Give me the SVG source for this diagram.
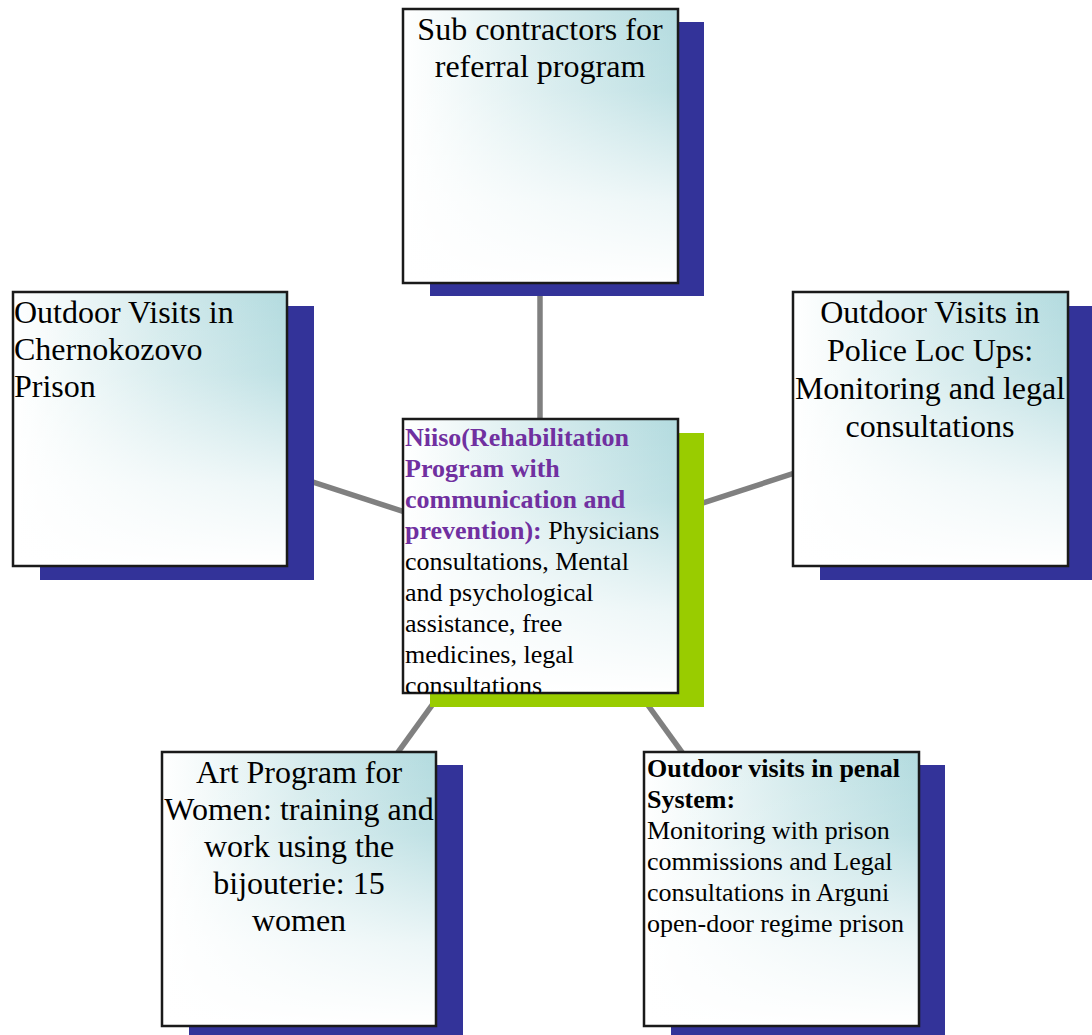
<svg xmlns="http://www.w3.org/2000/svg" width="1092" height="1035" viewBox="0 0 1092 1035">
<defs>
<linearGradient id="gh" x1="0" y1="0" x2="1" y2="0">
<stop offset="0" stop-color="#ffffff"/>
<stop offset="0.15" stop-color="#f4fafa"/>
<stop offset="0.55" stop-color="#d3eaec"/>
<stop offset="1" stop-color="#b3dbdf"/>
</linearGradient>
<linearGradient id="gv" x1="0" y1="0" x2="0" y2="1">
<stop offset="0" stop-color="#ffffff" stop-opacity="0"/>
<stop offset="0.3" stop-color="#ffffff" stop-opacity="0.15"/>
<stop offset="0.7" stop-color="#ffffff" stop-opacity="0.75"/>
<stop offset="1" stop-color="#ffffff" stop-opacity="1"/>
</linearGradient>
<pattern id="fill" patternUnits="objectBoundingBox" patternContentUnits="objectBoundingBox" width="1" height="1">
<rect width="1" height="1" fill="url(#gh)"/>
<rect width="1" height="1" fill="url(#gv)"/>
</pattern>
<clipPath id="cclip"><rect x="403" y="419" width="275" height="274"/></clipPath>
</defs>
<style>
.box{fill:url(#fill);stroke:#1a1a1a;stroke-width:2.5}
.sh{fill:#333399}
.shg{fill:#99cc00}
.conn{stroke:#808080;stroke-width:5.5;fill:none}
.t32{font-family:"Liberation Serif","Times New Roman",serif;font-size:32px;fill:#000}
.t26{font-family:"Liberation Serif","Times New Roman",serif;font-size:26px;fill:#000}
.b{font-weight:bold}
.p{fill:#7030a0}
</style>
<rect width="1092" height="1035" fill="#ffffff"/>
<g id="connectors">
<line class="conn" x1="540" y1="556" x2="540" y2="146"/>
<line class="conn" x1="540" y1="556" x2="150" y2="429"/>
<line class="conn" x1="540" y1="556" x2="930" y2="429"/>
<line class="conn" x1="540" y1="556" x2="299" y2="889"/>
<line class="conn" x1="540" y1="556" x2="781" y2="889"/>
</g>
<g id="node-top">
<rect class="sh" x="430" y="22" width="274" height="274"/>
<rect class="box" x="403" y="9" width="275" height="274"/>
<text class="t32" text-anchor="middle" x="540"><tspan x="540" y="40">Sub contractors for</tspan><tspan x="540" y="77">referral program</tspan></text>
</g>
<g id="node-left">
<rect class="sh" x="40" y="306" width="274" height="274"/>
<rect class="box" x="13" y="292" width="274" height="274"/>
<text class="t32"><tspan x="14" y="323">Outdoor Visits in</tspan><tspan x="14" y="360">Chernokozovo</tspan><tspan x="14" y="397">Prison</tspan></text>
</g>
<g id="node-right">
<rect class="sh" x="820" y="306" width="274" height="274"/>
<rect class="box" x="793" y="292" width="275" height="274"/>
<text class="t32" text-anchor="middle"><tspan x="930" y="323">Outdoor Visits in</tspan><tspan x="930" y="361">Police Loc Ups:</tspan><tspan x="930" y="399">Monitoring and legal</tspan><tspan x="930" y="437">consultations</tspan></text>
</g>
<g id="node-center">
<rect class="shg" x="430" y="433" width="274" height="274"/>
<rect class="box" x="403" y="419" width="275" height="274"/>
<g clip-path="url(#cclip)">
<text class="t26"><tspan x="405" y="446" class="b p">Niiso(Rehabilitation</tspan><tspan x="405" y="477" class="b p">Program with</tspan><tspan x="405" y="508" class="b p">communication and</tspan><tspan x="405" y="539" class="b p">prevention):</tspan><tspan> Physicians</tspan><tspan x="405" y="570">consultations, Mental</tspan><tspan x="405" y="601">and psychological</tspan><tspan x="405" y="632">assistance, free</tspan><tspan x="405" y="663">medicines, legal</tspan><tspan x="405" y="694">consultations</tspan></text>
</g>
</g>
<g id="node-bottom-left">
<rect class="sh" x="189" y="765" width="274" height="274"/>
<rect class="box" x="162" y="752" width="274" height="274"/>
<text class="t32" text-anchor="middle"><tspan x="299" y="783">Art Program for</tspan><tspan x="299" y="820">Women: training and</tspan><tspan x="299" y="857">work using the</tspan><tspan x="299" y="894">bijouterie: 15</tspan><tspan x="299" y="931">women</tspan></text>
</g>
<g id="node-bottom-right">
<rect class="sh" x="671" y="765" width="274" height="274"/>
<rect class="box" x="644" y="752" width="275" height="274"/>
<text class="t26"><tspan x="647" y="777" class="b">Outdoor visits in penal</tspan><tspan x="647" y="808" class="b">System:</tspan><tspan x="647" y="839">Monitoring with prison</tspan><tspan x="647" y="870">commissions and Legal</tspan><tspan x="647" y="901">consultations in Arguni</tspan><tspan x="647" y="932">open-door regime prison</tspan></text>
</g>
</svg>
